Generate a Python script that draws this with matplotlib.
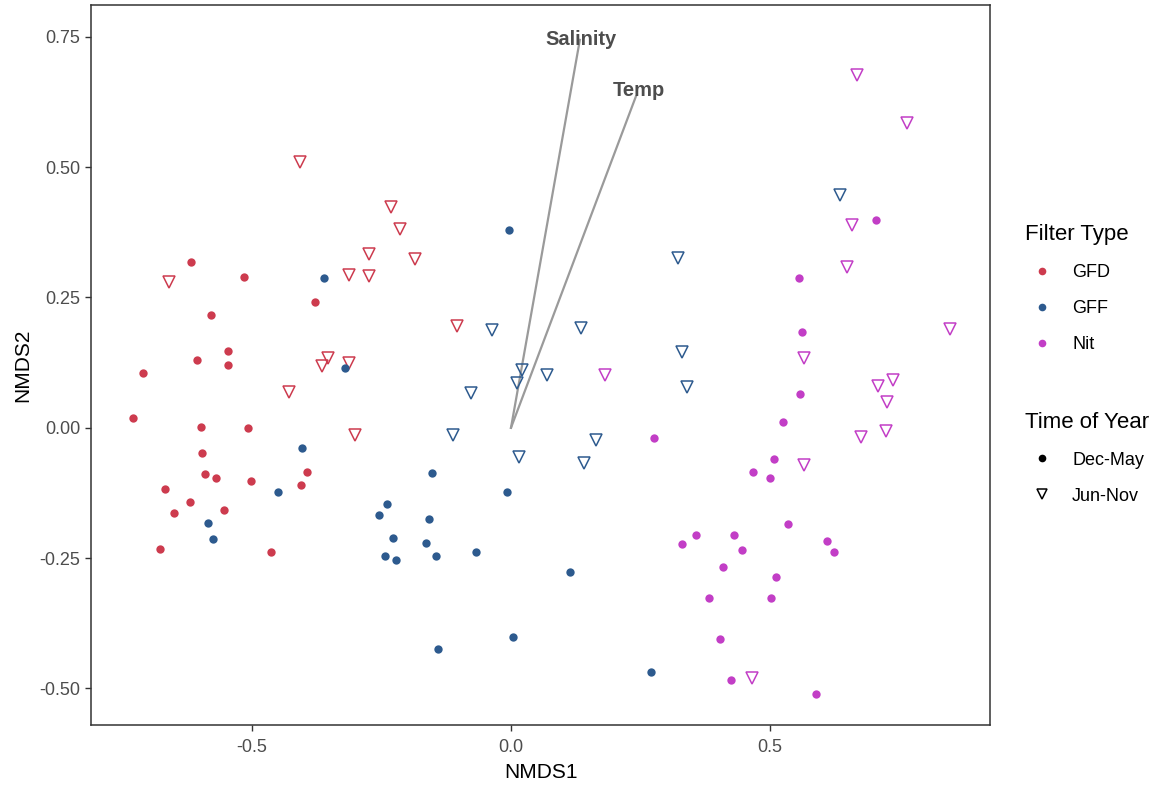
import matplotlib.pyplot as plt
from matplotlib.lines import Line2D

plt.rcParams['font.family'] = ['Liberation Sans', 'DejaVu Sans']

# NMDS scores, per filter type and season
gfd_dec_x = [-0.618, -0.515, -0.579, -0.378, -0.546, -0.606, -0.546, -0.710, -0.730, -0.598, -0.508, -0.597,
             -0.591, -0.569, -0.502, -0.394, -0.405, -0.668, -0.620, -0.651, -0.554, -0.678, -0.463]
gfd_dec_y = [0.318, 0.290, 0.217, 0.242, 0.148, 0.130, 0.121, 0.106, 0.019, 0.002, 0.000, -0.048,
             -0.088, -0.096, -0.102, -0.084, -0.109, -0.117, -0.142, -0.163, -0.157, -0.232, -0.238]
gfd_jun_x = [-0.407, -0.660, -0.274, -0.313, -0.274, -0.353, -0.365, -0.313, -0.429, -0.301, -0.232, -0.214, -0.185, -0.104]
gfd_jun_y = [0.510, 0.280, 0.334, 0.294, 0.292, 0.134, 0.119, 0.125, 0.069, -0.013, 0.424, 0.382, 0.324, 0.196]

gff_dec_x = [-0.361, -0.320, -0.403, -0.450, -0.585, -0.575, -0.004, -0.153, -0.008, -0.239, -0.255,
             -0.158, -0.228, -0.164, -0.243, -0.222, -0.145, -0.068, 0.114, 0.004, -0.141, 0.270]
gff_dec_y = [0.288, 0.115, -0.038, -0.123, -0.182, -0.213, 0.380, -0.086, -0.123, -0.146, -0.167,
             -0.175, -0.211, -0.221, -0.246, -0.253, -0.246, -0.238, -0.276, -0.401, -0.424, -0.468]
gff_jun_x = [-0.037, 0.135, 0.021, 0.012, 0.069, -0.077, -0.112, 0.164, 0.015, 0.141, 0.330, 0.340, 0.322, 0.635]
gff_jun_y = [0.188, 0.192, 0.111, 0.086, 0.102, 0.067, -0.013, -0.023, -0.056, -0.067, 0.146, 0.079, 0.326, 0.447]

nit_dec_x = [0.705, 0.556, 0.562, 0.558, 0.525, 0.276, 0.508, 0.467, 0.500, 0.535, 0.357, 0.431,
             0.330, 0.610, 0.624, 0.446, 0.409, 0.512, 0.382, 0.502, 0.403, 0.425, 0.589]
nit_dec_y = [0.399, 0.288, 0.184, 0.065, 0.012, -0.019, -0.059, -0.084, -0.096, -0.184, -0.205, -0.205,
             -0.223, -0.217, -0.238, -0.234, -0.267, -0.286, -0.326, -0.326, -0.405, -0.483, -0.510]
nit_jun_x = [0.668, 0.764, 0.658, 0.649, 0.847, 0.566, 0.181, 0.737, 0.708, 0.726, 0.724, 0.676, 0.566, 0.465]
nit_jun_y = [0.677, 0.585, 0.389, 0.309, 0.190, 0.134, 0.102, 0.092, 0.081, 0.050, -0.006, -0.017, -0.071, -0.480]

# environmental vectors (arrow tips) and where their labels sit
env_names = ['Salinity', 'Temp']
env_x = [0.133, 0.241]
env_y = [0.744, 0.635]
lab_x = [0.135, 0.247]
lab_y = [0.744, 0.646]

colors = {'GFD': '#CD3B4E', 'GFF': '#2D5A8E', 'Nit': '#C23EC6'}

fig = plt.figure(figsize=(11.64, 7.88), dpi=100)
ax = fig.add_axes([0.0782, 0.0800, 0.7723, 0.9137])

for ex, ey in zip(env_x, env_y):
    ax.plot([0, ex], [0, ey], color='#9A9A9A', lw=1.6, zorder=1)
for name, tx, ty in zip(env_names, lab_x, lab_y):
    ax.text(tx, ty, name, ha='center', va='center', fontsize=14.5, fontweight='bold', color='#4D4D4D')

groups = [('GFD', gfd_dec_x, gfd_dec_y, gfd_jun_x, gfd_jun_y),
          ('GFF', gff_dec_x, gff_dec_y, gff_jun_x, gff_jun_y),
          ('Nit', nit_dec_x, nit_dec_y, nit_jun_x, nit_jun_y)]
for name, dx, dy, jx, jy in groups:
    c = colors[name]
    ax.plot(dx, dy, 'o', ls='none', ms=6, color=c, mec='none', zorder=3)
    ax.plot(jx, jy, 'v', ls='none', ms=8, mfc='none', mec=c, mew=1.1, zorder=3)

ax.set_xlim(-0.811, 0.925)
ax.set_ylim(-0.570, 0.811)
ax.set_xticks([-0.5, 0.0, 0.5])
ax.set_xticklabels(['-0.5', '0.0', '0.5'])
ax.set_yticks([-0.5, -0.25, 0, 0.25, 0.5, 0.75])
ax.set_yticklabels(['-0.50', '-0.25', '0.00', '0.25', '0.50', '0.75'])
ax.tick_params(labelsize=13, labelcolor='#4D4D4D', color='#333333', length=4, width=1)
ax.tick_params(axis='x', pad=6)
for s in ax.spines.values():
    s.set_color('#333333')
    s.set_linewidth(1.1)
ax.set_xlabel('NMDS1', fontsize=15, labelpad=5)
ax.set_ylabel('NMDS2', fontsize=15, labelpad=5)

h1 = [Line2D([], [], marker='o', ls='none', ms=5.5, color=colors[k], mec='none') for k in colors]
fig.legend(h1, list(colors), loc='upper left', bbox_to_anchor=(0.8729, 0.727),
           frameon=False, fontsize=13, title='Filter Type', title_fontsize=16,
           alignment='left', borderpad=0, handlelength=1.9, handletextpad=0.7, labelspacing=1.05)
h2 = [Line2D([], [], marker='o', ls='none', ms=5.5, color='black', mec='none'),
      Line2D([], [], marker='v', ls='none', ms=7, mfc='none', mec='black', mew=1.1)]
fig.legend(h2, ['Dec-May', 'Jun-Nov'], loc='upper left', bbox_to_anchor=(0.8729, 0.489),
           frameon=False, fontsize=13, title='Time of Year', title_fontsize=16,
           alignment='left', borderpad=0, handlelength=1.9, handletextpad=0.7, labelspacing=1.05)

fig.savefig('out.png', dpi=100)
